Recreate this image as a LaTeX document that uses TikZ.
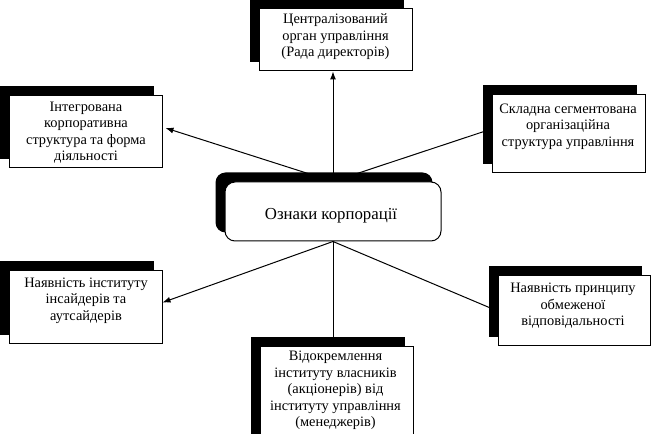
\documentclass[tikz,border=0pt]{standalone}
\usepackage{fontspec}
\setmainfont{Liberation Serif}
\usetikzlibrary{arrows.meta,fit}
\pgfdeclarelayer{lines}
\pgfdeclarelayer{shadows}
\pgfsetlayers{lines,shadows,main}
\tikzset{
  box/.style={draw=black, line width=0.75pt, fill=white, inner sep=0pt},
  cbox/.style={box, rounded corners=7.5pt},
  txt/.style={align=center, inner sep=0pt, font=\fontsize{10.8pt}{12.4pt}\selectfont},
  ctxt/.style={align=center, inner sep=0pt, font=\fontsize{12.6pt}{15pt}\selectfont},
  conn/.style={draw=black, line width=0.75pt, -{Latex[length=6pt,width=4.5pt]}},
  shd/.style={fill=black}
}
\begin{document}
\begin{tikzpicture}[x=0.75pt,y=-0.75pt]
\clip (0,0) rectangle (651,434);
% boxes
\node[box, fit={(259,9) (412,71)}] (t) {};
\node[box, fit={(9,96) (162,168)}] (ul) {};
\node[box, fit={(492,95) (645,173)}] (ur) {};
\node[cbox, fit={(225,182) (441,241)}] (c) {};
\node[box, fit={(9,271) (162,344)}] (ll) {};
\node[box, fit={(498,276) (650,346)}] (lr) {};
\node[box, fit={(260,347) (413,445)}] (b) {};
% texts
\node[txt] (tt) at (335.5,37) {Централізований\\орган управління\\(Рада директорів)};
\node[txt] (tul) at (86,132.5) {Інтегрована\\корпоративна\\структура та форма\\діяльності};
\node[txt] (tur) at (568,126.5) {Складна сегментована\\організаційна\\структура управління};
\node[ctxt] (tc) at (331,216) {Ознаки корпорації};
\node[txt] (tll) at (86,300.5) {Наявність інституту\\інсайдерів та\\аутсайдерів};
\node[txt] (tlr) at (573,306) {Наявність принципу\\обмеженої\\відповідальності};
\node[txt, anchor=north] (tb) at (335.5,351) {Відокремлення\\інституту власників\\(акціонерів) від\\інституту управління\\(менеджерів)};
% shadows
\begin{pgfonlayer}{shadows}
\foreach \n in {t,ul,ur,ll,lr,b}{
  \fill[shd] ([shift={(-9,-9)}]\n.north west) rectangle ([shift={(-9,-9)}]\n.south east);
}
\fill[shd, rounded corners=7.5pt] ([shift={(-9,-9)}]c.north west) rectangle ([shift={(-9,-9)}]c.south east);
\end{pgfonlayer}
% connectors
\begin{pgfonlayer}{lines}
\fill[white] (0,0) rectangle (651,434);
\draw[conn] (c.north) -- (c.north |- t.south);
\draw[conn] (c.north) -- ([shift={(3,-4)}]ul.east);
\draw[conn] (c.north) -- ([shift={(0,-5)}]ur.west);
\draw[conn] (c.south) -- ([shift={(0,-5)}]ll.east);
\draw[conn] (c.south) -- (c.south |- b.north);
\draw[conn] (c.south) -- (lr.west);
\end{pgfonlayer}
\end{tikzpicture}
\end{document}
